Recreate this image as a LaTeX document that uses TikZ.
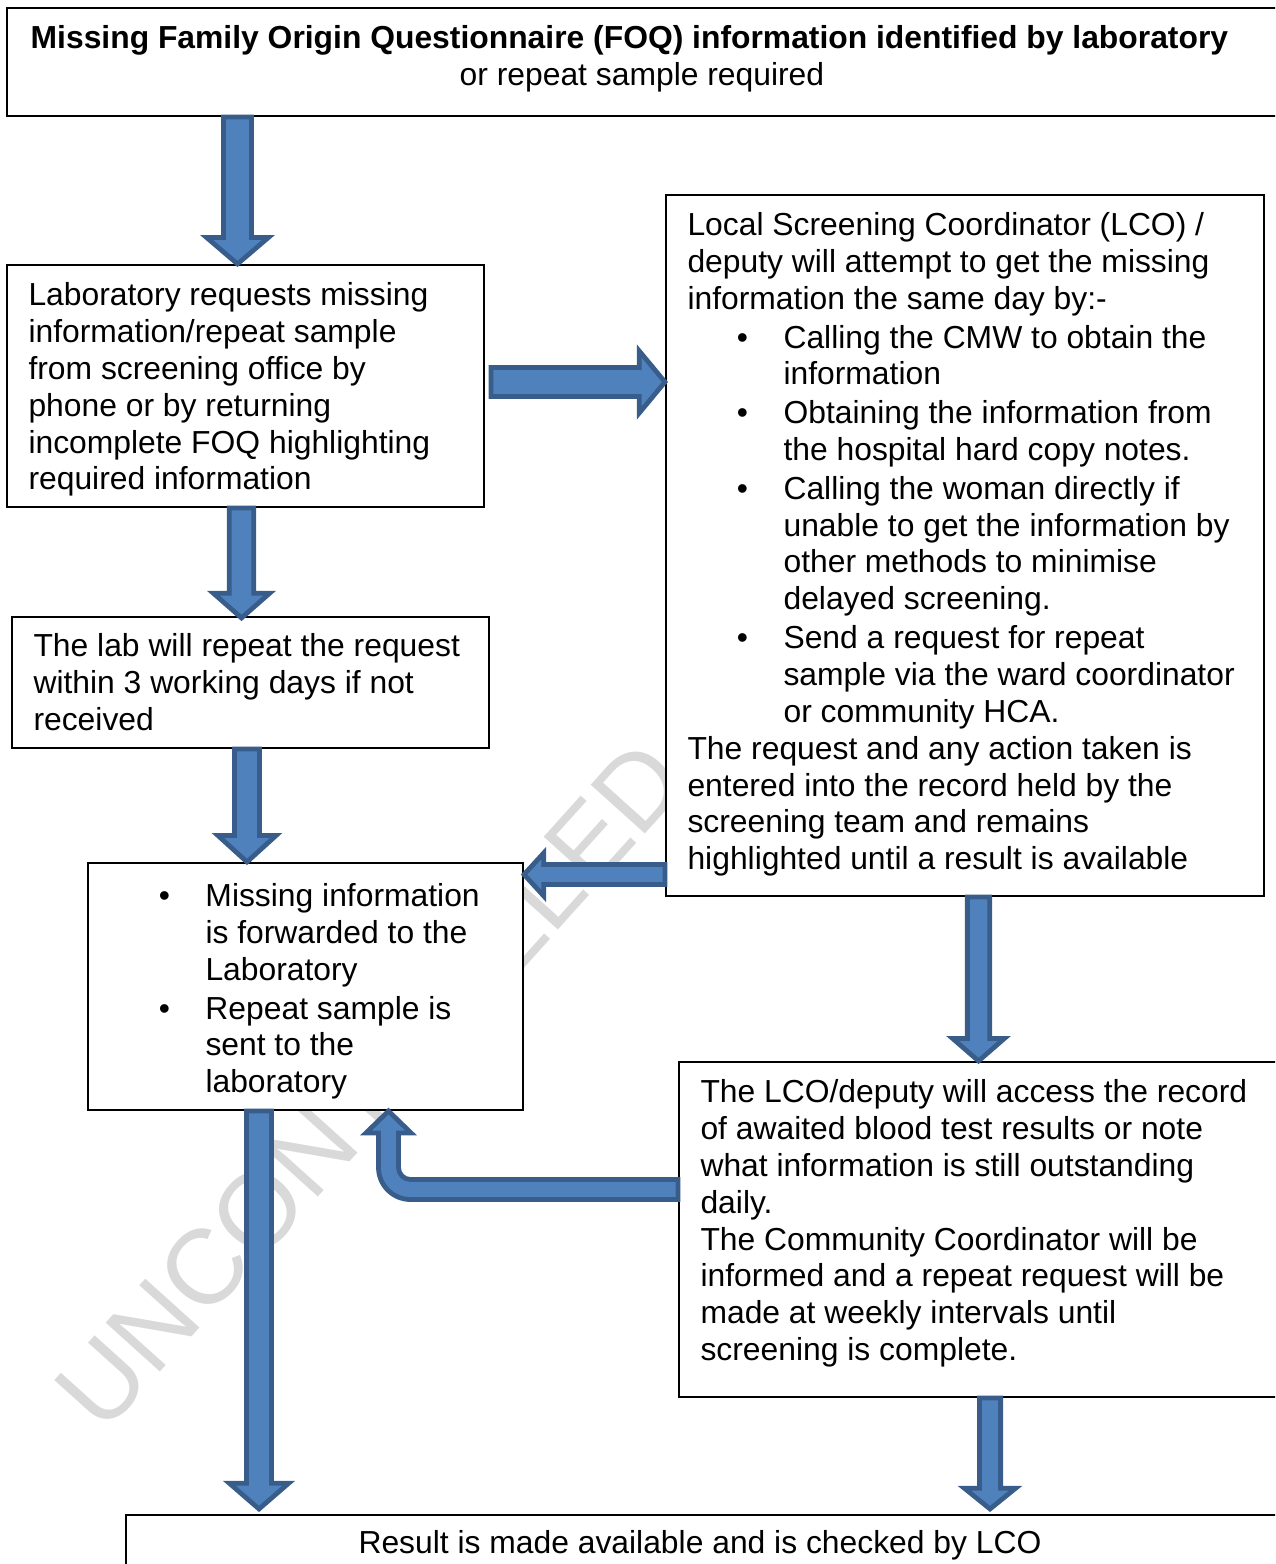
\documentclass[tikz,border=0pt]{standalone}
\usepackage{fontspec}
\setmainfont{Liberation Sans}
\usetikzlibrary{calc}
\usetikzlibrary{fit}
\definecolor{arrowfill}{HTML}{4F81BD}
\definecolor{arrowline}{HTML}{385D8A}
\tikzset{
  box/.style={draw=black, line width=0.8pt, fill=white, inner sep=0pt},
  boxtext/.style={anchor=north west, align=left, inner sep=0pt, font=\fontsize{12}{13.9}\selectfont},
  bigarrow/.style={fill=arrowfill, draw=arrowline, line width=1.8pt, line join=miter},
}
% block arrow: #1 tail, #2 tip, #3 half shaft, #4 half head, #5 head length
\newcommand{\blockarrow}[5]{%
  \path[bigarrow] let \p1=#1, \p2=#2, \n1={veclen(\x2-\x1,\y2-\y1)}, \n2={atan2(\y2-\y1,\x2-\x1)} in
    [shift={(\p1)}, rotate=\n2] (0pt,-#3) -- (\n1-#5,-#3) -- (\n1-#5,-#4) -- (\n1,0pt)
    -- (\n1-#5,#4) -- (\n1-#5,#3) -- (0pt,#3) -- cycle;}
\newcommand{\itembul}[1]{\hspace*{#1}\makebox[17.6pt][l]{\textbullet}}

\begin{document}
\begin{tikzpicture}[x=0.377pt, y=-0.377pt]
\useasboundingbox (0,0) rectangle (1275,1564);
\clip (0,0) rectangle (1275,1564);
% watermark
\node[rotate=48, text=gray!30, inner sep=0pt, font=\fontsize{40}{40}\selectfont] (mark) at (370,1085) {UNCONTROLLED};
% boxes
\node[box, fit={(7,8) (1290,116)}] (top) {};
\node[box, fit={(7,265) (484,507)}] (req) {};
\node[box, fit={(12,617) (489,748)}] (lab) {};
\node[box, fit={(88,863) (523,1110)}] (fwd) {};
\node[box, fit={(666,195) (1264,896)}] (lco) {};
\node[box, fit={(679,1062) (1290,1397)}] (daily) {};
\node[box, fit={(126,1515) (1290,1600)}] (res) {};
% texts
\node[boxtext, anchor=north, align=center] (toptxt) at (636,22.2)
  {\strut\textbf{Missing Family Origin Questionnaire (FOQ) information identified by laboratory}\hspace*{5pt}\\\hspace*{4.5pt}or repeat sample required};
\node[boxtext] (reqtxt) at (28,279.2) {\strut Laboratory requests missing\\information/repeat sample\\from screening office by\\phone or by returning\\incomplete FOQ highlighting\\required information};
\node[boxtext] (labtxt) at (33,630.2) {\strut The lab will repeat the request\\within 3 working days if not\\received};
\node[boxtext] (fwdtxt) at (88,880.2) {\strut\itembul{26.5pt}Missing information\\\hspace*{44.1pt}is forwarded to the\\\hspace*{44.1pt}Laboratory\\[0.7pt]
  \itembul{26.5pt}Repeat sample is\\\hspace*{44.1pt}sent to the\\\hspace*{44.1pt}laboratory};
\node[boxtext] (lcotxt) at (687,209.2) {\strut Local Screening Coordinator (LCO) /\\deputy will attempt to get the missing\\information the same day by:-\\[0.7pt]
  \itembul{18.6pt}Calling the CMW to obtain the\\\hspace*{36.2pt}information\\[0.7pt]
  \itembul{18.6pt}Obtaining the information from\\\hspace*{36.2pt}the hospital hard copy notes.\\[0.7pt]
  \itembul{18.6pt}Calling the woman directly if\\\hspace*{36.2pt}unable to get the information by\\\hspace*{36.2pt}other methods to minimise\\\hspace*{36.2pt}delayed screening.\\[0.7pt]
  \itembul{18.6pt}Send a request for repeat\\\hspace*{36.2pt}sample via the ward coordinator\\\hspace*{36.2pt}or community HCA.\\
  The request and any action taken is\\entered into the record held by the\\screening team and remains\\highlighted until a result is available};
\node[boxtext] (dailytxt) at (700,1076.2) {\strut The LCO/deputy will access the record\\of awaited blood test results or note\\what information is still outstanding\\daily.\\The Community Coordinator will be\\informed and a repeat request will be\\made at weekly intervals until\\screening is complete.};
\node[boxtext, anchor=north, align=center] (restxt) at (700,1527.2) {\strut Result is made available and is checked by LCO};
% arrows
\coordinate (a1) at (237.5,0);
\coordinate (a2) at (0,382);
\coordinate (a3) at (241.5,0);
\coordinate (a4) at (247,0);
\coordinate (a5) at (0,874.5);
\coordinate (a6) at (978.5,0);
\coordinate (a7) at (388.5,1189.5);
\coordinate (a8) at (259,0);
\coordinate (a9) at (990,0);
\blockarrow{(a1 |- top.south)}{(a1 |- req.north)}{5.3pt}{11.7pt}{10pt}
\blockarrow{($(a2 -| req.east)+(6,0)$)}{(a2 -| lco.west)}{5.5pt}{11.7pt}{9.7pt}
\blockarrow{(a3 |- req.south)}{($(a3 |- lab.north)+(0,2)$)}{4.6pt}{10.6pt}{9.3pt}
\blockarrow{(a4 |- lab.south)}{(a4 |- fwd.north)}{4.75pt}{11pt}{10pt}
\blockarrow{(a5 -| lco.west)}{(a5 -| fwd.east)}{3.8pt}{8.1pt}{7.4pt}
\blockarrow{(a6 |- lco.south)}{(a6 |- daily.north)}{4.2pt}{9.8pt}{8.5pt}
\blockarrow{(a8 |- fwd.south)}{($(a8 |- res.north)+(0,-5)$)}{4.75pt}{11.2pt}{9.7pt}
\blockarrow{(a9 |- daily.south)}{($(a9 |- res.north)+(0,-5)$)}{4pt}{9.65pt}{7.8pt}
% u-turn arrow back to the forwarding box
\path[bigarrow] ($(a7 -| daily.west)+(0,10)$) -- ($(a7)+(22,10)$)
  .. controls ($(a7)+(4.3,10)$) and ($(a7)+(-10,-4.3)$) .. ($(a7)+(-10,-22)$)
  -- ($(a7)+(-10,-56.5)$) -- ($(a7)+(-22.6,-56.5)$) -- (a7 |- fwd.south)
  -- ($(a7)+(22.6,-56.5)$) -- ($(a7)+(10,-56.5)$) -- ($(a7)+(10,-22)$)
  .. controls ($(a7)+(10,-15.4)$) and ($(a7)+(15.4,-10)$) .. ($(a7)+(22,-10)$)
  -- ($(a7 -| daily.west)+(0,-10)$) -- cycle;
\end{tikzpicture}
\end{document}
